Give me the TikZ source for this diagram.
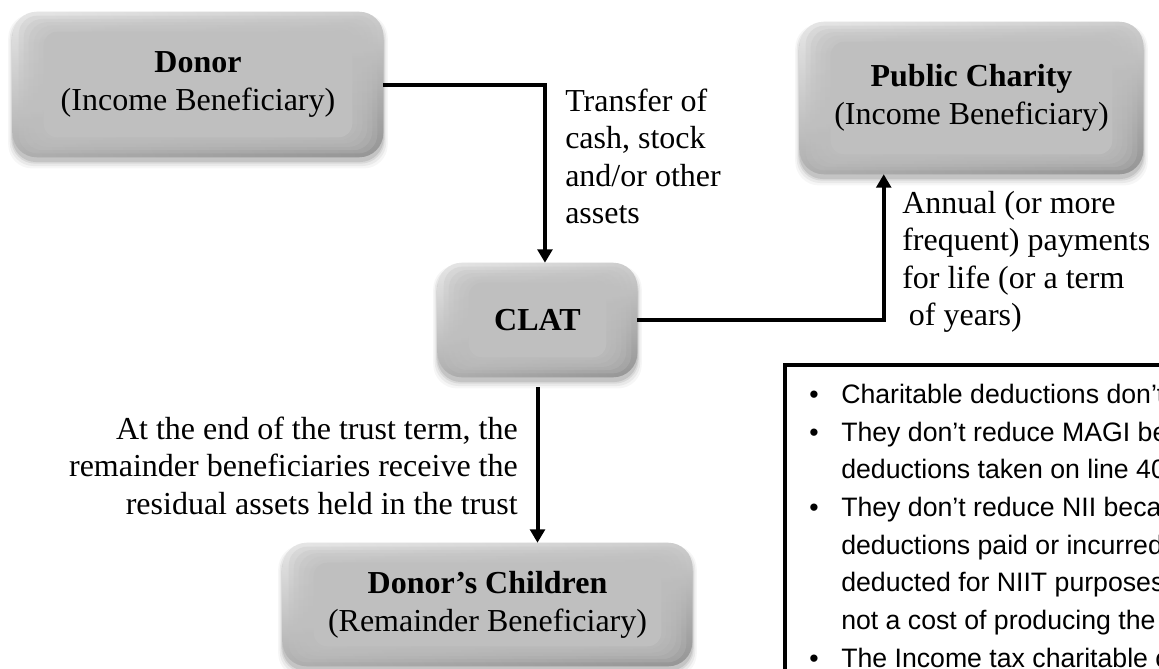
\documentclass[tikz,border=0pt]{standalone}
\usepackage{fontspec}
\setmainfont{Liberation Serif}
\newfontfamily\arialfont{Liberation Sans}
\usetikzlibrary{arrows.meta}
\pgfdeclarelayer{background}
\pgfsetlayers{background,main}

\definecolor{facegray}{HTML}{BFBFBF}
\definecolor{toplight}{HTML}{E4E4E4}
\definecolor{botdark}{HTML}{A6A6A6}

\tikzset{
  bbox/.style={rectangle, inner sep=0pt, align=center, font=\fontsize{24}{28.5}\selectfont},
  conn/.style={line width=3pt, -{Triangle[length=10pt,width=11pt]}},
  lbl/.style={inner sep=0pt, font=\fontsize{24}{28}\selectfont},
  notebox/.style={draw=black, line width=2.6pt, fill=white},
}

\newcommand\bevelbox[1]{%
  \foreach \s/\o in {9/0.035,6/0.05,3/0.07,1/0.09}{
    \fill[black, opacity=\o, rounded corners=18pt]
      ([shift={(-\s*0.5,-\s*0.3+5)}]#1.north west) rectangle ([shift={(\s*0.5,\s*0.8+4)}]#1.south east);
  }
  \shade[rounded corners=18pt, top color=toplight, bottom color=botdark]
    (#1.north west) rectangle (#1.south east);
  \shade[rounded corners=18pt, left color=white, right color=black, fill opacity=0.10]
    (#1.north west) rectangle (#1.south east);
  \foreach \k in {6,11,16,21,26}{
    \fill[facegray, opacity=0.28, rounded corners=14pt]
      ([shift={(\k,\k*0.65)}]#1.north west) rectangle ([shift={(-\k,-\k*0.65)}]#1.south east);
  }
  \fill[facegray, rounded corners=10pt]
    ([shift={(31,20)}]#1.north west) rectangle ([shift={(-31,-20)}]#1.south east);
}

\begin{document}
\begin{tikzpicture}[x=0.75pt,y=-0.75pt]
\useasboundingbox (0,0) rectangle (1159,668);
\clip (0,0) rectangle (1159,668);

% boxes
\node[bbox, minimum width=277.5pt, minimum height=108.75pt] (donor) at (198,84.5)
  {\textbf{Donor}\\(Income Beneficiary)};
\node[bbox, minimum width=257.25pt, minimum height=114pt] (charity) at (971.5,98)
  {\textbf{Public Charity}\\(Income Beneficiary)};
\node[bbox, minimum width=149.25pt, minimum height=85.5pt] (clat) at (537.5,320)
  {\textbf{CLAT}};
\node[bbox, minimum width=306.75pt, minimum height=92.25pt] (children) at (487.5,604.5)
  {\textbf{Donor’s Children}\\(Remainder Beneficiary)};

\begin{pgfonlayer}{background}
  \fill[white] (0,0) rectangle (1159,668);
  \bevelbox{donor}
  \bevelbox{charity}
  \bevelbox{clat}
  \bevelbox{children}
\end{pgfonlayer}

% connectors
\draw[conn] (donor.east) -| ([xshift=5.6pt]clat.north);
\draw[conn] (clat.east) -| ([xshift=63pt]charity.south west);
\draw[conn, shorten <=7.5pt] (clat.south) -- (clat.south |- children.north);

% labels
\node[lbl, anchor=north west, align=left] (ltransfer) at (565,85)
  {\strut Transfer of\\cash, stock\\and/or other\\assets};
\node[lbl, anchor=north west, align=left] (lannual) at (902,187)
  {\strut Annual (or more\\frequent) payments\\for life (or a term\\\hspace*{5pt}of years)};
\node[lbl, anchor=north east, align=right] (lend) at (518,413)
  {\strut At the end of the trust term, the\\remainder beneficiaries receive the\\residual assets held in the trust};

% note box
\path[notebox] (785,365) rectangle (1180,700);
\node[anchor=north west, inner sep=0pt, align=left,
      font=\arialfont\fontsize{20}{28.3}\selectfont] (notes) at (809,376.6)
  {\strut\makebox[24pt][l]{•}Charitable deductions don’t\\
   \makebox[24pt][l]{•}They don’t reduce MAGI be\\
   \hspace*{24pt}deductions taken on line 40\\
   \makebox[24pt][l]{•}They don’t reduce NII becau\\
   \hspace*{24pt}deductions paid or incurred\\
   \hspace*{24pt}deducted for NIIT purposes\\
   \hspace*{24pt}not a cost of producing the\\
   \makebox[24pt][l]{•}The Income tax charitable c};
\end{tikzpicture}
\end{document}
